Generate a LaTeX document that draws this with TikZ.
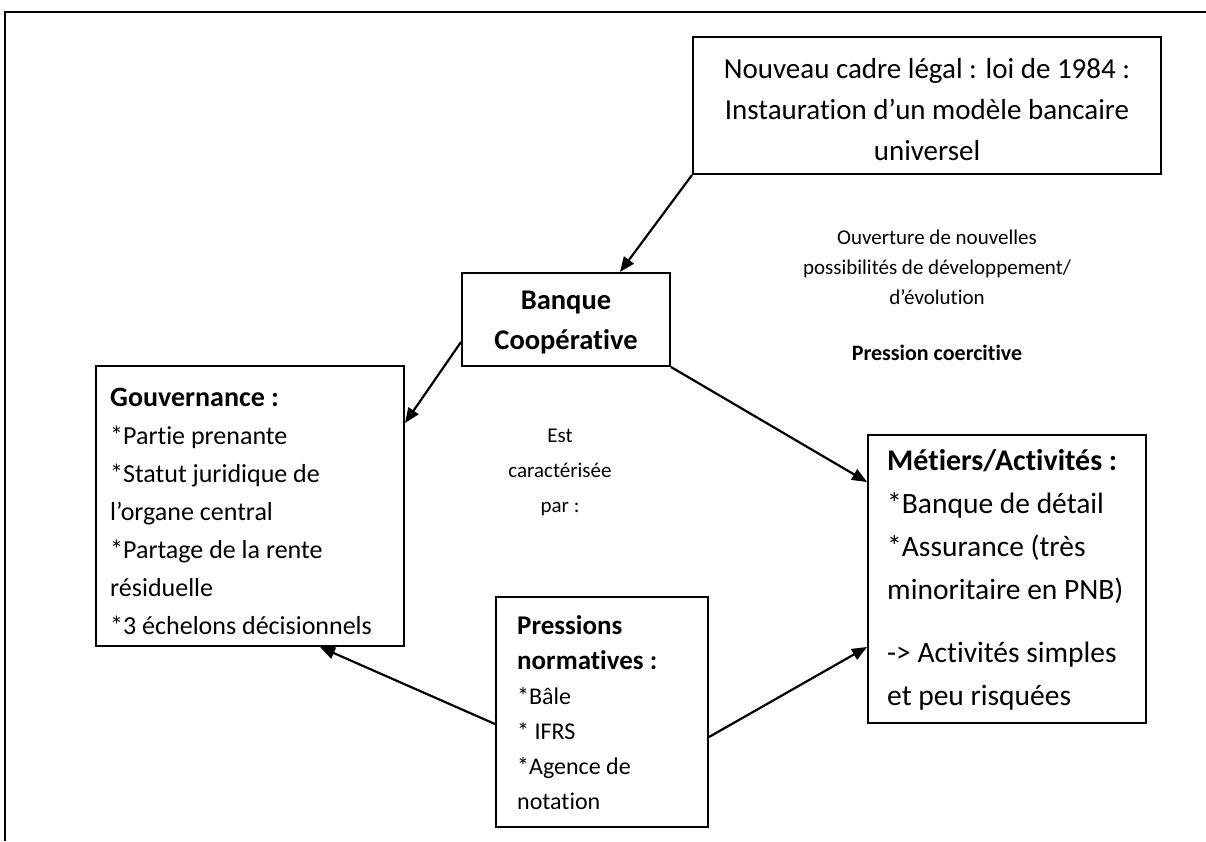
\documentclass[tikz,border=0pt]{standalone}
\usepackage{fontspec}
\setmainfont{Carlito}[Ligatures=NoCommon]
\usetikzlibrary{arrows.meta}
\begin{document}
\begin{tikzpicture}[x=1pt,y=-1pt,
  box/.style={draw, line width=2pt, inner sep=0pt},
  arr/.style={line width=2.2pt, -{Triangle[length=15pt,width=12pt]}},
  txt/.style={inner sep=0pt, align=left, anchor=west},
  ctxt/.style={inner sep=0pt, align=center}]
\useasboundingbox (0,0) rectangle (1206,841);
\fill[white] (0,0) rectangle (1206,841);
\draw[line width=2pt] (1206,12) -- (5,12) -- (5,841);

% boxes
\node[box, minimum width=468pt, minimum height=137pt] (top) at (927,105.5) {};
\node[box, minimum width=208pt, minimum height=93pt] (bq) at (566,319.5) {};
\node[box, minimum width=308pt, minimum height=280pt] (gov) at (250,506) {};
\node[box, minimum width=278pt, minimum height=288pt] (met) at (1007,579) {};
\node[box, minimum width=212pt, minimum height=230pt] (pr) at (602,712) {};

% texts
\node[ctxt, font=\fontsize{29}{41}\selectfont] (toptxt) at (927,110)
  {Nouveau cadre légal : loi de 1984 :\\Instauration d’un modèle bancaire\\universel};
\node[ctxt, font=\fontsize{28.5}{40}\selectfont\bfseries] (bqtxt) at (566,322)
  {Banque\\Coopérative};
\node[txt, font=\fontsize{26}{38}\selectfont] (govtxt) at (110,511)
  {{\fontsize{28}{38}\selectfont\bfseries Gouvernance :}\\*Partie prenante\\*Statut juridique de\\l’organe central\\*Partage de la rente\\résiduelle\\*3 échelons décisionnels};
\node[txt, font=\fontsize{29.5}{43}\selectfont] (mettxt) at (887,580)
  {{\fontsize{30}{43}\selectfont\bfseries Métiers/Activités :}\\*Banque de détail\\*Assurance (très\\minoritaire en PNB)\\[20pt]-> Activités simples\\et peu risquées};
\node[txt, font=\fontsize{24}{35}\selectfont] (prtxt) at (517,713)
  {{\fontsize{27}{35}\selectfont\bfseries Pressions}\\{\fontsize{27}{35}\selectfont\bfseries normatives :}\\*Bâle\\* IFRS\\*Agence de\\notation};
\node[ctxt, font=\fontsize{21}{30}\selectfont] (ouv) at (937,267)
  {Ouverture de nouvelles\\possibilités de développement/\\d’évolution};
\node[ctxt, font=\fontsize{22}{30}\selectfont\bfseries] (coer) at (937,353)
  {Pression coercitive};
\node[ctxt, font=\fontsize{21}{35}\selectfont] (est) at (560,472)
  {Est\\caractérisée\\par :};

% connectors
\draw[arr] (top.south west) -- ([xshift=54pt]bq.north);
\draw[arr] ([yshift=-22.5pt]bq.west) -- ([yshift=83pt]gov.east);
\draw[arr] (bq.south east) -- ([yshift=97pt]met.west);
\draw[arr] ([yshift=-12pt]pr.west) -- ([xshift=70pt]gov.south);
\draw[arr] ([yshift=-25pt]pr.east) -- ([yshift=-68pt]met.west);
\end{tikzpicture}
\end{document}
